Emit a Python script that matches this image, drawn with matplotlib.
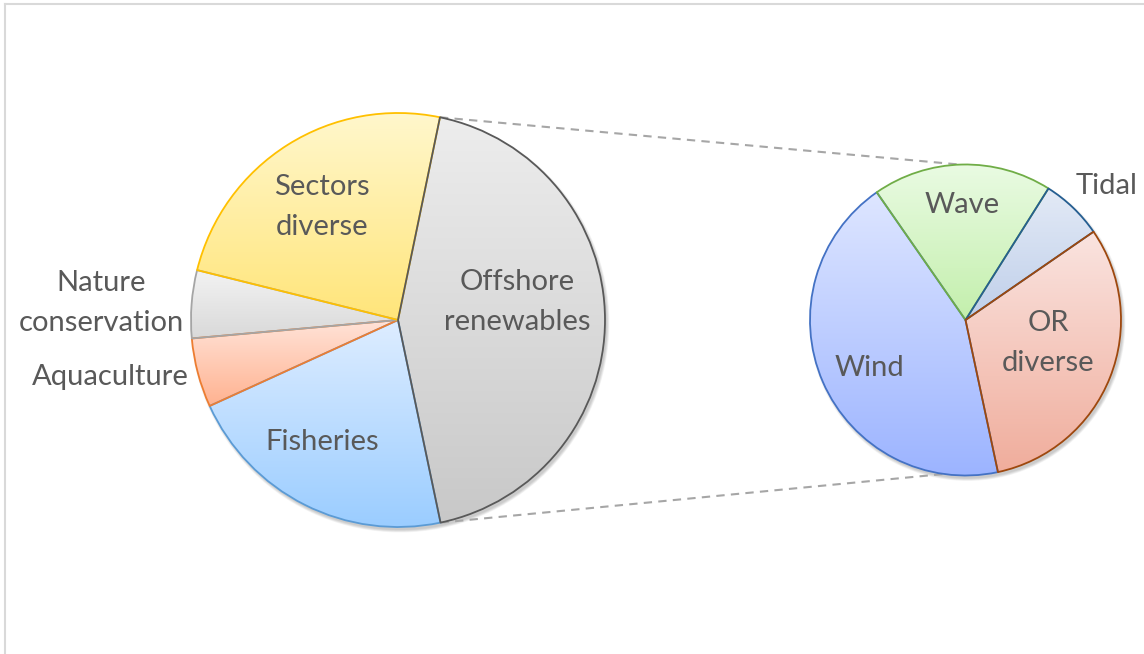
import numpy as np
import matplotlib
matplotlib.use("Agg")
import matplotlib.pyplot as plt
from matplotlib.colors import LinearSegmentedColormap
from matplotlib.patches import Circle
from matplotlib.lines import Line2D

# main pie (clockwise from Offshore renewables)
main_labels = ["Offshore\nrenewables", "Fisheries", "Aquaculture", "Nature\nconservation", "Sectors\ndiverse"]
main_values = [43.5, 21.5, 5.4, 5.3, 24.4]
main_edges = ["#595959", "#5B9BD5", "#ED7D31", "#A5A5A5", "#FFC000"]
main_tops = ["#EDEDED", "#DEEDFF", "#FFE3D8", "#F3F3F3", "#FFF8CF"]
main_bottoms = ["#C8C8C8", "#99CCFF", "#FFB290", "#D9D9D9", "#FFE57A"]
main_order = [9, 4, 5, 6, 7]   # which slice outline sits on top

# secondary pie: split of offshore renewables (clockwise from Wave)
sub_labels = ["Wave", "Tidal", "OR\ndiverse", "Wind"]
sub_values = [8.1, 2.8, 13.6, 19.0]
sub_edges = ["#70AD47", "#255E91", "#9E480E", "#4472C4"]
sub_tops = ["#EAFBE3", "#E3EAF6", "#FAE4E0", "#DEE6FF"]
sub_bottoms = ["#C3EFAC", "#BFCFEA", "#F0AD9C", "#9BB3FF"]
sub_order = [5, 6, 7, 4]

W, H = 1144, 654
main_c, main_r = (398, H - 320), 207
sub_c, sub_r = (965.5, H - 320), 155.5

text_color = "#595959"
plt.rcParams['font.family'] = ['Lato', 'DejaVu Sans']

fig = plt.figure(figsize=(W / 100, H / 100), dpi=100)
ax = fig.add_axes([0, 0, 1, 1])


def shadow(center, r):
    for k in range(6):
        ax.add_patch(Circle((center[0] + 2, center[1] - 3), r + 0.5 * k,
                            facecolor="black", edgecolor="none", alpha=0.035, zorder=0))


def draw_pie(values, center, r, startangle, edges, tops, bottoms, order):
    wedges, _ = ax.pie(values, center=center, radius=r, startangle=startangle,
                       counterclock=False, frame=True,
                       wedgeprops=dict(linewidth=1.3, joinstyle="round"))
    grad = np.linspace(0, 1, 256).reshape(-1, 1)
    for w, ec, c1, c2, z in zip(wedges, edges, tops, bottoms, order):
        w.set_facecolor("none")
        w.set_edgecolor(ec)
        w.set_zorder(z)
        v = w.get_path().vertices
        cmap = LinearSegmentedColormap.from_list("g", [c1, c2])
        im = ax.imshow(grad, cmap=cmap, origin="upper", aspect="auto", zorder=2,
                       extent=(v[:, 0].min(), v[:, 0].max(), v[:, 1].min(), v[:, 1].max()),
                       interpolation="bilinear")
        im.set_clip_path(w)
    return wedges


shadow(main_c, main_r)
shadow(sub_c, sub_r)

main_start = 90 - 11.7
sub_start = 90 - 325.2
main_w = draw_pie(main_values, main_c, main_r, main_start, main_edges, main_tops, main_bottoms, main_order)
sub_w = draw_pie(sub_values, sub_c, sub_r, sub_start, sub_edges, sub_tops, sub_bottoms, sub_order)

# connector lines from the offshore slice to the secondary pie
a1 = np.radians(main_start)
a2 = np.radians(main_start - 360 * main_values[0] / sum(main_values))
p_top = (main_c[0] + main_r * np.cos(a1), main_c[1] + main_r * np.sin(a1))
p_bot = (main_c[0] + main_r * np.cos(a2), main_c[1] + main_r * np.sin(a2))
q_top = (sub_c[0] + sub_r * np.cos(np.radians(92)), sub_c[1] + sub_r * np.sin(np.radians(92)))
q_bot = (sub_c[0] + sub_r * np.cos(np.radians(262)), sub_c[1] + sub_r * np.sin(np.radians(262)))
for p, q in [(p_top, q_top), (p_bot, q_bot)]:
    ax.plot([p[0], q[0]], [p[1], q[1]], color="#A6A6A6", lw=1.5,
            dashes=(4, 3), zorder=1)

# labels
fs = 21
label_pos_main = [(517, 302), (322, 442), (110, 377), (101, 303), (322, 207)]
for txt, (x, y) in zip(main_labels, label_pos_main):
    ax.text(x, H - y, txt, ha="center", va="center", fontsize=fs,
            color=text_color, linespacing=1.65, zorder=12)
label_pos_sub = [(962, 205), (1107, 186), (1048, 343), (869, 368)]
for txt, (x, y) in zip(sub_labels, label_pos_sub):
    ax.text(x, H - y, txt, ha="center", va="center", fontsize=fs,
            color=text_color, linespacing=1.65, zorder=12)

ax.set_xlim(0, W)
ax.set_ylim(0, H)
ax.set_aspect("equal")
ax.axis("off")

# chart area border (top and left visible)
fig.add_artist(Line2D([5 / W, 5 / W], [0, 1 - 4 / H], transform=fig.transFigure,
                      color="#D9D9D9", lw=1.5))
fig.add_artist(Line2D([5 / W, 1], [1 - 4 / H, 1 - 4 / H], transform=fig.transFigure,
                      color="#D9D9D9", lw=1.5))

fig.savefig("out.png", dpi=100)
